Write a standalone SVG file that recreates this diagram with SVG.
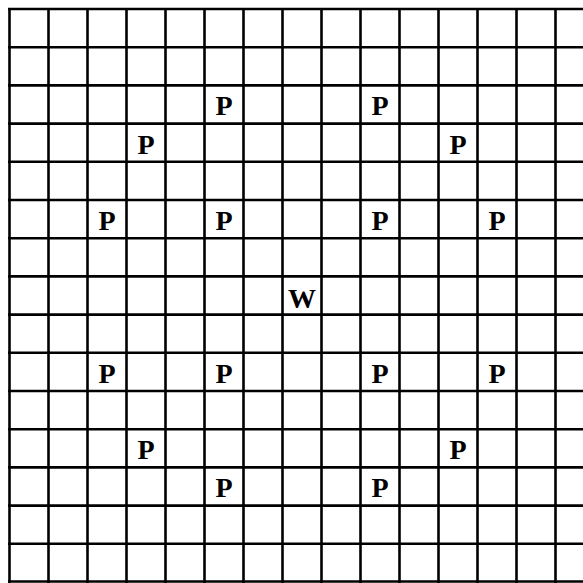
<svg xmlns="http://www.w3.org/2000/svg" width="583" height="583" viewBox="0 0 583 583">
<style>
.g line{stroke:#000;stroke-width:2.6}
.t{font-family:"Liberation Serif",serif;font-weight:bold;font-size:28px;text-anchor:middle;fill:#000}
</style>
<rect width="583" height="583" fill="#fff"/>
<g class="g" id="grid">
<line x1="9.5" y1="8" x2="9.5" y2="583"/>
<line x1="48.5" y1="8" x2="48.5" y2="583"/>
<line x1="87.5" y1="8" x2="87.5" y2="583"/>
<line x1="126.5" y1="8" x2="126.5" y2="583"/>
<line x1="165.5" y1="8" x2="165.5" y2="583"/>
<line x1="204.5" y1="8" x2="204.5" y2="583"/>
<line x1="243.5" y1="8" x2="243.5" y2="583"/>
<line x1="282.5" y1="8" x2="282.5" y2="583"/>
<line x1="321.5" y1="8" x2="321.5" y2="583"/>
<line x1="360.5" y1="8" x2="360.5" y2="583"/>
<line x1="399.5" y1="8" x2="399.5" y2="583"/>
<line x1="438.5" y1="8" x2="438.5" y2="583"/>
<line x1="477.5" y1="8" x2="477.5" y2="583"/>
<line x1="516.5" y1="8" x2="516.5" y2="583"/>
<line x1="555.5" y1="8" x2="555.5" y2="583"/>
<line x1="8" y1="9" x2="583" y2="9"/>
<line x1="8" y1="47.2" x2="583" y2="47.2"/>
<line x1="8" y1="85.4" x2="583" y2="85.4"/>
<line x1="8" y1="123.6" x2="583" y2="123.6"/>
<line x1="8" y1="161.8" x2="583" y2="161.8"/>
<line x1="8" y1="200" x2="583" y2="200"/>
<line x1="8" y1="238.2" x2="583" y2="238.2"/>
<line x1="8" y1="276.4" x2="583" y2="276.4"/>
<line x1="8" y1="314.6" x2="583" y2="314.6"/>
<line x1="8" y1="352.8" x2="583" y2="352.8"/>
<line x1="8" y1="391" x2="583" y2="391"/>
<line x1="8" y1="429.2" x2="583" y2="429.2"/>
<line x1="8" y1="467.4" x2="583" y2="467.4"/>
<line x1="8" y1="505.6" x2="583" y2="505.6"/>
<line x1="8" y1="543.8" x2="583" y2="543.8"/>
<line x1="8" y1="581.5" x2="583" y2="581.5"/>
</g>
<g id="labels">
<text class="t" x="224" y="115">P</text>
<text class="t" x="380" y="115">P</text>
<text class="t" x="146" y="154">P</text>
<text class="t" x="458" y="154">P</text>
<text class="t" x="107" y="230">P</text>
<text class="t" x="224" y="230">P</text>
<text class="t" x="380" y="230">P</text>
<text class="t" x="497" y="230">P</text>
<text class="t" x="302" y="308">W</text>
<text class="t" x="107" y="383">P</text>
<text class="t" x="224" y="383">P</text>
<text class="t" x="380" y="383">P</text>
<text class="t" x="497" y="383">P</text>
<text class="t" x="146" y="459">P</text>
<text class="t" x="458" y="459">P</text>
<text class="t" x="224" y="497">P</text>
<text class="t" x="380" y="497">P</text>
</g>
</svg>
